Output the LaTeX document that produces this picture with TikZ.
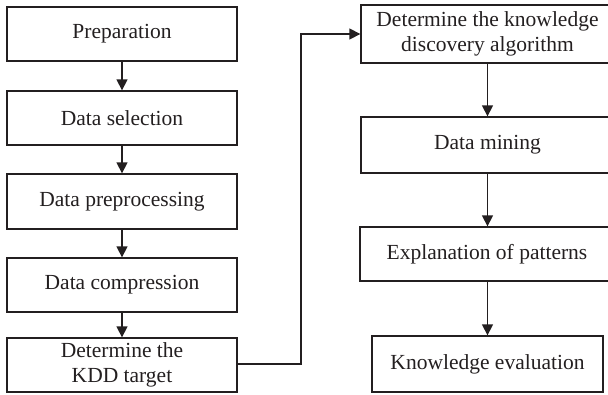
\documentclass[tikz,border=0pt]{standalone}
\usepackage{fontspec}
\setmainfont{Liberation Serif}
\usetikzlibrary{arrows.meta}
\definecolor{ink}{HTML}{231F20}
\begin{document}
\begin{tikzpicture}[x=1pt,y=-1pt,
  box/.style={draw=ink,line width=1.3pt,text=ink,align=center,inner sep=0pt,
    font=\fontsize{21.5}{25}\selectfont},
  arr/.style={draw=ink,line width=1.3pt,-{Triangle[width=11pt,length=11pt]}}]
\useasboundingbox (0,0) rectangle (608,394);
% left column
\node[box,minimum width=230pt,minimum height=54pt] (prep) at (122,34) {Preparation};
\node[box,minimum width=230pt,minimum height=54pt] (sel) at (122,118) {Data selection};
\node[box,minimum width=230pt,minimum height=55pt] (pre) at (122,201.5) {Data preprocessing};
\node[box,minimum width=230pt,minimum height=54pt] (comp) at (122,285) {Data compression};
\node[box,minimum width=230pt,minimum height=54pt] (kdd) at (122,365) {Determine the\\KDD target};
% right column
\node[box,minimum width=253pt,minimum height=58pt] (alg) at (487.5,34) {Determine the knowledge\\discovery algorithm};
\node[box,minimum width=253pt,minimum height=56pt] (mine) at (487.5,145) {Data mining};
\node[box,minimum width=254pt,minimum height=54pt] (expl) at (487,254) {Explanation of patterns};
\node[box,minimum width=231pt,minimum height=56pt] (eval) at (487.5,364) {Knowledge evaluation};
% connectors
\draw[arr] (prep) -- (sel);
\draw[arr] (sel) -- (pre);
\draw[arr] (pre) -- (comp);
\draw[arr] (comp) -- (kdd);
\coordinate (c1) at (301,364);
\coordinate (c2) at (301,34);
\draw[arr] (kdd.east |- c1) -- (c1) -- (c2) -- (alg.west);
\draw[arr] (alg.south -| eval.north) -- (mine.north -| eval.north);
\draw[arr] (mine.south -| eval.north) -- (expl.north -| eval.north);
\draw[arr] (expl.south -| eval.north) -- (eval.north);
\end{tikzpicture}
\end{document}
